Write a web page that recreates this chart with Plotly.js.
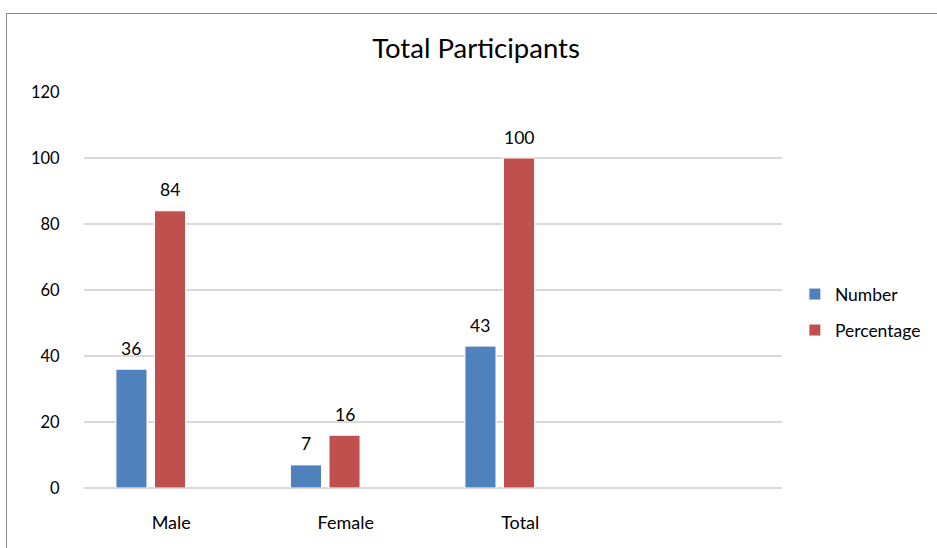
<!DOCTYPE html>
<html>
<head>
<meta charset="utf-8">
<script src="https://cdn.plot.ly/plotly-3.0.1.min.js"></script>
<style>
html,body{margin:0;padding:0;background:#fff;}
#wrap{position:relative;width:937px;height:548px;overflow:hidden;}
#frame{position:absolute;left:6px;top:13px;width:1000px;height:600px;border-left:1px solid #8c8c8c;border-top:1px solid #8c8c8c;pointer-events:none;}
#chart{position:absolute;left:0;top:0;width:937px;height:548px;}
</style>
</head>
<body>
<div id="wrap"><div id="chart"></div><div id="frame"></div></div>
<script>
const categories = ["Male", "Female", "Total", " "];
const seriesNames = ["Number", "Percentage"];
const numberValues = [36, 7, 43, null];
const percentageValues = [84, 16, 100, null];
const yTicks = [0, 20, 40, 60, 80, 100, 120];

const colors = ["#4F81BD", "#C0504D"];
const offsets = [-0.317, -0.096];
const barW = 0.178;
const FONT = "Lato, 'Open Sans', sans-serif";

const traces = [numberValues, percentageValues].map((vals, i) => ({
  type: "bar",
  name: seriesNames[i],
  x: categories,
  y: vals,
  width: barW,
  offset: offsets[i],
  marker: {color: colors[i], line: {color: "#ffffff", width: 1}},
  legend: i === 0 ? "legend" : "legend2",
  hoverinfo: "none"
}));

const annotations = [];
[numberValues, percentageValues].forEach((vals, i) => {
  vals.forEach((v, j) => {
    if (v === null) return;
    annotations.push({
      x: categories[j], y: v, xref: "x", yref: "y",
      text: String(v), showarrow: false,
      xshift: (offsets[i] + barW / 2) * 174.75,
      yshift: 21, yanchor: "middle",
      font: {family: FONT, size: 17.5, color: "#000"}
    });
  });
});

const legendBase = {
  xref: "paper", yref: "paper", xanchor: "left", yanchor: "middle",
  font: {family: FONT, size: 17.5, color: "#000"},
  bgcolor: "rgba(0,0,0,0)", itemwidth: 30, borderwidth: 0
};

const layout = {
  width: 937, height: 548,
  margin: {l: 84, r: 154, t: 92, b: 60},
  paper_bgcolor: "rgba(0,0,0,0)", plot_bgcolor: "rgba(0,0,0,0)",
  title: {text: "Total Participants", x: 0.508, xanchor: "center", y: 0.912, yanchor: "middle",
          font: {family: FONT, size: 27.5, color: "#000"}},
  barmode: "overlay",
  showlegend: true,
  xaxis: {
    type: "category", range: [-0.5, 3.5], fixedrange: true,
    showgrid: false, zeroline: false, showline: false,
    ticks: "outside", ticklen: 18, tickcolor: "rgba(0,0,0,0)",
    tickfont: {family: FONT, size: 18, color: "#000"}
  },
  yaxis: {
    range: [0, 120], tickvals: yTicks, fixedrange: true,
    showgrid: true, gridcolor: "#d9d9d9", gridwidth: 1.5,
    zeroline: true, zerolinecolor: "#d9d9d9", zerolinewidth: 2,
    showline: false,
    ticks: "outside", ticklen: 20, tickcolor: "rgba(0,0,0,0)",
    tickfont: {family: FONT, size: 16.5, color: "#000"}
  },
  legend: Object.assign({x: 1.017, y: 0.444 + 18/396}, legendBase),
  legend2: Object.assign({x: 1.017, y: 0.444 - 18/396}, legendBase),
  annotations: annotations
};

Plotly.newPlot("chart", traces, layout, {displayModeBar: false, staticPlot: true});
</script>
</body>
</html>
